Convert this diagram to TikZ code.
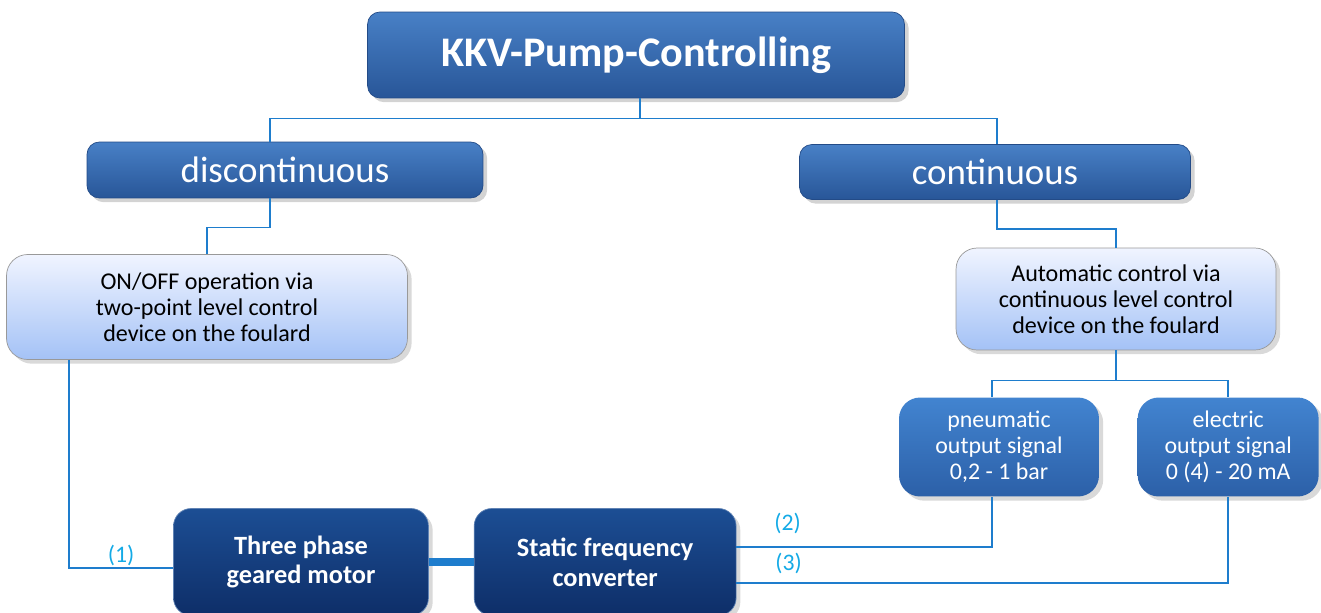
\documentclass[tikz,border=0pt]{standalone}
\usepackage{fontspec}
\setmainfont{Carlito}
\usetikzlibrary{positioning,shadows}
\definecolor{headtop}{RGB}{72,128,198}
\definecolor{headbot}{RGB}{40,86,152}
\definecolor{headline}{RGB}{35,75,135}
\definecolor{infotop}{RGB}{240,244,255}
\definecolor{infobot}{RGB}{164,194,246}
\definecolor{sigtop}{RGB}{66,132,208}
\definecolor{sigbot}{RGB}{44,96,168}
\definecolor{unittop}{RGB}{28,78,148}
\definecolor{unitbot}{RGB}{14,46,104}
\definecolor{linkblue}{RGB}{30,125,205}
\definecolor{tagblue}{RGB}{20,170,230}

\begin{document}
\begin{tikzpicture}[x=0.02cm, y=-0.02cm,
    every node/.style={rectangle, align=center, inner sep=2pt},
    head/.style={draw=headline, rounded corners=7pt, top color=headtop, bottom color=headbot, text=white, drop shadow={opacity=0.35}},
    info/.style={draw=gray!80, rounded corners=12pt, top color=infotop, bottom color=infobot, text=black, font=\fontsize{13.7}{14.8}\selectfont, drop shadow={opacity=0.3}},
    signal/.style={rounded corners=12pt, top color=sigtop, bottom color=sigbot, text=white, minimum width=4cm, minimum height=1.98cm, font=\fontsize{13.6}{14.8}\selectfont, drop shadow={opacity=0.3}},
    unit/.style={draw=unittop!70!white, rounded corners=10pt, top color=unittop, bottom color=unitbot, text=white, minimum width=5.1cm, minimum height=2.14cm, font=\fontsize{15}{17}\selectfont\bfseries, drop shadow={opacity=0.3}},
    link/.style={draw=linkblue, line width=0.8pt},
    tag/.style={text=tagblue, font=\fontsize{13.5}{15}\selectfont, inner sep=1pt}]

    \useasboundingbox (0,0) rectangle (1321,612);

    \node[head, minimum width=10.74cm, minimum height=1.72cm, font=\fontsize{24}{28}\selectfont\bfseries] (pump) at (636,55) {KKV-Pump-Controlling};
    \node[head, minimum width=7.92cm, minimum height=1.12cm, font=\fontsize{21}{24}\selectfont] (disc) at (285,170) {discontinuous};
    \node[head, minimum width=7.82cm, minimum height=1.1cm, font=\fontsize{21}{24}\selectfont] (cont) at (995,172) {continuous};

    \node[info, minimum width=8.02cm, minimum height=2.1cm] (onoff) at (207,307) {ON/OFF operation via\\two-point level control\\device on the foulard};
    \node[info, minimum width=6.4cm, minimum height=2.04cm] (auto) at (1116,299) {Automatic control via\\continuous level control\\device on the foulard};

    \node[signal] (pneu) at (999,447) {pneumatic\\output signal\\0,2 - 1 bar};
    \node[signal, minimum width=3.62cm, right=0.76cm of pneu] (elec) {electric\\output signal\\0 (4) - 20 mA};

    \node[unit] (motor) at (301,562) {Three phase\\geared motor};
    \node[unit, minimum width=5.24cm, right=0.9cm of motor] (conv) {Static frequency\\converter};

    \draw[link] ([xshift=0.08cm]pump.south) -- ++(0,20) coordinate (split);
    \draw[link] (split) -| ([xshift=-0.3cm]disc.north);
    \draw[link] (split) -| ([xshift=0.04cm]cont.north);
    \draw[link] ([xshift=-0.3cm]disc.south) -- ++(0,29) -| (onoff.north);
    \draw[link] ([xshift=0.04cm]cont.south) -- ++(0,29) -| (auto.north);
    \draw[link] (auto.south) -- ++(0,30) coordinate (fork);
    \draw[link] (fork) -| ([xshift=-0.14cm]pneu.north);
    \draw[link] (fork) -| (elec.north);

    \draw[link] ([xshift=1.26cm]onoff.south west) |- node[tag, pos=0.75, above] {(1)} ([yshift=-0.12cm]motor.west);
    \draw[draw=linkblue, line width=4pt] (motor.east) -- (conv.west);
    \draw[link] ([yshift=0.3cm]conv.east) -| node[tag, pos=0.1, above=6pt] {(2)} ([xshift=-0.14cm]pneu.south);
    \draw[link] ([yshift=-0.42cm]conv.east) -| node[tag, pos=0.053, above=4pt] {(3)} (elec.south);
\end{tikzpicture}
\end{document}
